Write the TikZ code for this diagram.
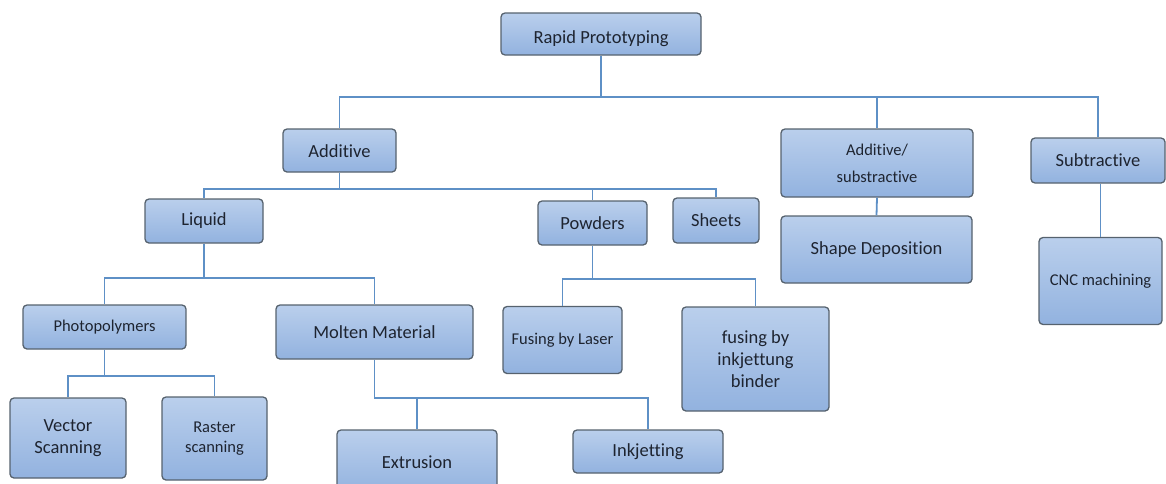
\documentclass[tikz,border=0pt]{standalone}
\usepackage{fontspec}
\setmainfont[Ligatures={NoCommon}]{Carlito}
\definecolor{boxtop}{HTML}{BACFEC}
\definecolor{boxbot}{HTML}{92B2DF}
\definecolor{boxline}{HTML}{56626E}
\definecolor{connline}{HTML}{5E90C6}
\definecolor{txt}{HTML}{1E2430}
\tikzset{
  box/.style={draw=boxline, line width=1.3pt, rounded corners=4pt,
    top color=boxtop, bottom color=boxbot, inner sep=0pt, align=center,
    text=txt, font=\fontsize{18.5}{22}\selectfont},
  smalltext/.style={font=\fontsize{16.5}{20}\selectfont},
  conn/.style={draw=connline, line width=1.8pt}
}
\begin{document}
\begin{tikzpicture}[x=1pt,y=-1pt]
\useasboundingbox (0,0) rectangle (1166,483);
\clip (0,0) rectangle (1166,483);
% level 0
\node[box, minimum width=200pt, minimum height=42pt] (rp) at (601,34) {\raisebox{-9pt}[0pt][0pt]{Rapid Prototyping}};
% level 1
\node[box, minimum width=113pt, minimum height=43pt] (add) at (339.5,150.5) {\raisebox{-7pt}[0pt][0pt]{Additive}};
\node[box, smalltext, minimum width=192pt, minimum height=68pt, font=\fontsize{16.5}{27}\selectfont] (addsub) at (877,163) {Additive/\\substractive};
\node[box, minimum width=134pt, minimum height=45pt] (sub) at (1098,160.5) {Subtractive};
% level 2
\node[box, minimum width=118pt, minimum height=44pt] (liq) at (204,221) {Liquid};
\node[box, minimum width=109pt, minimum height=44pt] (pow) at (592.5,223) {Powders};
\node[box, minimum width=86pt, minimum height=45pt] (sh) at (716,220.5) {Sheets};
\node[box, minimum width=191pt, minimum height=67pt] (shd) at (876.5,249.5) {Shape Deposition};
\node[box, smalltext, minimum width=123pt, minimum height=87pt] (cnc) at (1100.5,281) {CNC machining};
% level 3
\node[box, smalltext, minimum width=163pt, minimum height=44pt] (pho) at (104.5,327) {Photopolymers};
\node[box, minimum width=197pt, minimum height=54pt] (mol) at (374.5,332) {Molten Material};
\node[box, smalltext, minimum width=119pt, minimum height=67pt] (fl) at (562.5,340) {Fusing by Laser};
\node[box, minimum width=147pt, minimum height=104pt] (fib) at (755.5,359) {fusing by\\inkjettung\\binder};
% level 4
\node[box, minimum width=116pt, minimum height=80pt] (vs) at (68,438) {Vector\\Scanning};
\node[box, smalltext, minimum width=105pt, minimum height=83pt] (rs) at (214.5,438.5) {Raster\\scanning};
\node[box, minimum width=160pt, minimum height=64pt] (ext) at (417,462) {Extrusion};
\node[box, minimum width=150pt, minimum height=43pt] (ink) at (648,451.5) {Inkjetting};
% connectors
\draw[conn] (rp.south) -- ++(0,41) -| (add.north);
\draw[conn] (rp.south) -- ++(0,41) -| (addsub.north);
\draw[conn] (rp.south) -- ++(0,41) -| (sub.north);
\draw[conn] (add.south) -- ++(0,16) -| (liq.north);
\draw[conn] (add.south) -- ++(0,16) -| (pow.north);
\draw[conn] (add.south) -- ++(0,16) -| (sh.north);
\draw[conn] (liq.south) -- ++(0,34) -| (pho.north);
\draw[conn] (liq.south) -- ++(0,34) -| (mol.north);
\draw[conn] (pho.south) -- ++(0,26) -| (vs.north);
\draw[conn] (pho.south) -- ++(0,26) -| (rs.north);
\draw[conn] (mol.south) -- ++(0,38) -| (ext.north);
\draw[conn] (mol.south) -- ++(0,38) -| (ink.north);
\draw[conn] (pow.south) -- ++(0,33) -| (fl.north);
\draw[conn] (pow.south) -- ++(0,33) -| (fib.north);
\draw[conn] (addsub.south) -- (shd.north);
\draw[conn] (cnc.north) -- (cnc.north |- sub.south);
\end{tikzpicture}
\end{document}
